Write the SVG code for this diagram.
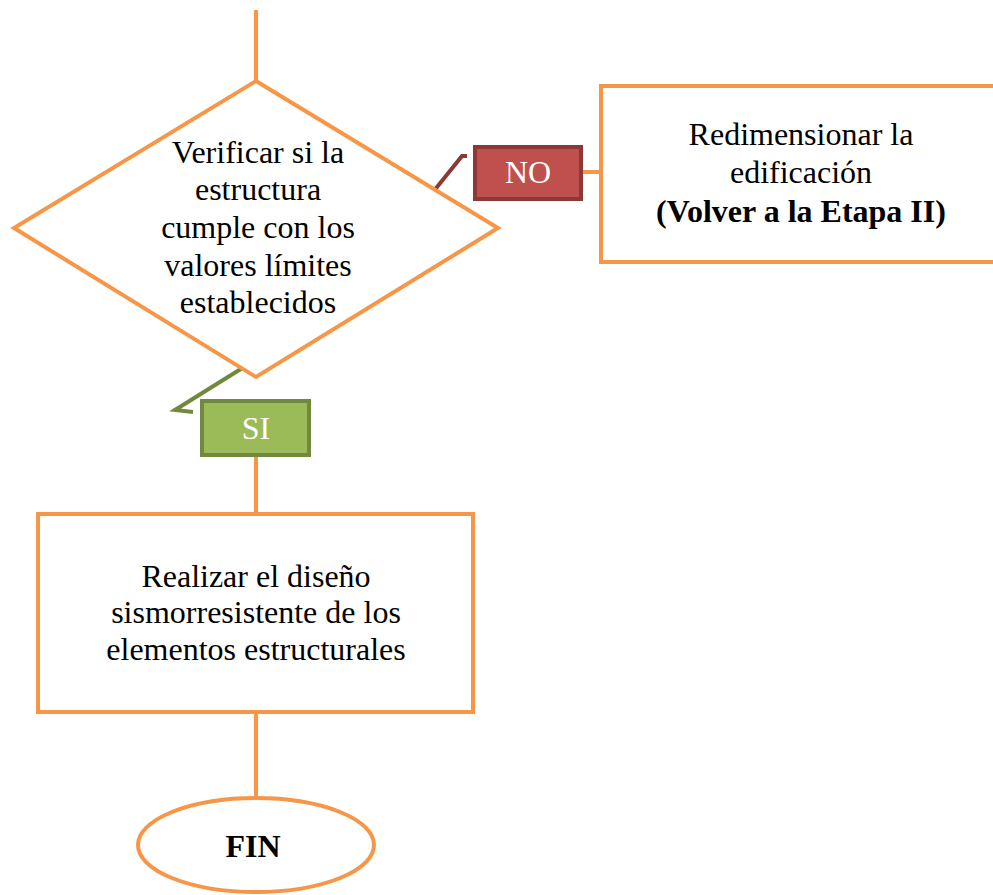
<svg xmlns="http://www.w3.org/2000/svg" width="993" height="895" viewBox="0 0 993 895">
  <style>
    .shape { fill: #FFFFFF; stroke: #F79646; stroke-width: 4; }
    .flow { stroke: #F79646; stroke-width: 4; fill: none; }
    .txt { font-size: 32px; fill: #000000; text-anchor: middle; }
    .bold { font-weight: bold; }
    .lbl { font-size: 32px; fill: #FFFFFF; text-anchor: middle; }
  </style>
  <rect width="993" height="895" fill="#FFFFFF"/>

  <g id="connectors">
    <line class="flow" x1="256" y1="10" x2="256" y2="81"/>
    <line class="flow" x1="582" y1="172" x2="601" y2="172"/>
    <line class="flow" x1="256" y1="456" x2="256" y2="513"/>
    <line class="flow" x1="256" y1="712" x2="256" y2="798"/>
    <polyline points="433,192 462,156 467,156" fill="none" stroke="#8C3836" stroke-width="4"/>
    <polyline points="244,367 175,410 193,412" fill="none" stroke="#71893F" stroke-width="4"/>
  </g>

  <g font-family="'Liberation Serif', 'Times New Roman', serif">
    <g id="decision">
      <polygon class="shape" points="256,81 498,228 256,377 14,228"/>
      <text class="txt" x="258" y="163">Verificar  si la</text>
      <text class="txt" x="258" y="200">estructura</text>
      <text class="txt" x="258" y="238">cumple con los</text>
      <text class="txt" x="258" y="276">valores  límites</text>
      <text class="txt" x="258" y="313">establecidos</text>
    </g>

    <g id="label-no">
      <rect x="475" y="147" width="106" height="52" fill="#C0504D" stroke="#8C3836" stroke-width="4"/>
      <text class="lbl" x="528" y="183">NO</text>
    </g>

    <g id="resize">
      <rect class="shape" x="601" y="86" width="400" height="176"/>
      <text class="txt" x="801" y="145">Redimensionar la</text>
      <text class="txt" x="801" y="183">edificación</text>
      <text class="txt bold" x="801" y="222">(Volver a la Etapa II)</text>
    </g>

    <g id="label-si">
      <rect x="202" y="401" width="107" height="54" fill="#9BBB59" stroke="#71893F" stroke-width="4"/>
      <text class="lbl" x="256" y="439">SI</text>
    </g>

    <g id="design">
      <rect class="shape" x="38" y="514" width="435" height="198"/>
      <text class="txt" x="256" y="587">Realizar el diseño</text>
      <text class="txt" x="256" y="623">sismorresistente de los</text>
      <text class="txt" x="256" y="660">elementos estructurales</text>
    </g>

    <g id="end">
      <ellipse class="shape" cx="256" cy="845" rx="118" ry="47"/>
      <text class="txt bold" x="253" y="857" font-size="35">FIN</text>
    </g>
  </g>
</svg>
